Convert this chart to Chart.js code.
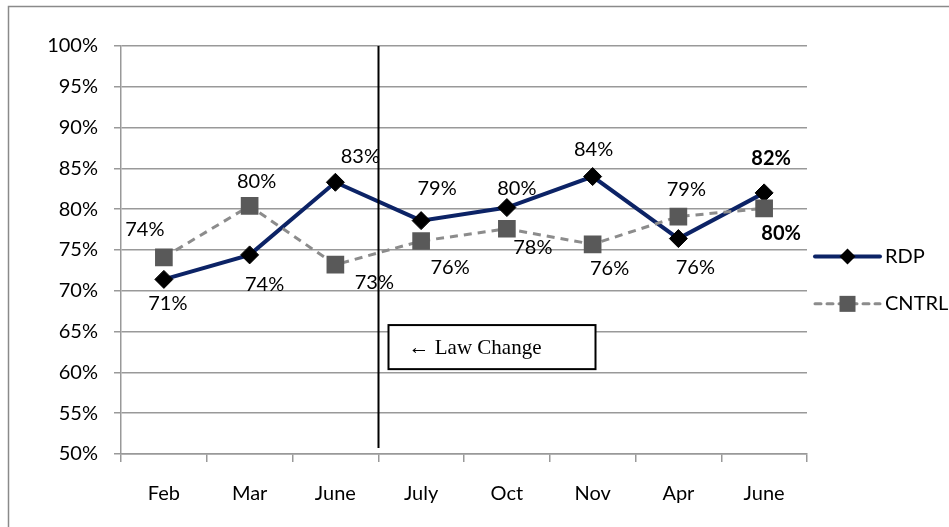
<!DOCTYPE html>
<html>
<head>
<meta charset="utf-8">
<script src="https://cdn.jsdelivr.net/npm/chart.js@4.4.0/dist/chart.umd.min.js"></script>
<style>
html,body{margin:0;padding:0;background:#fff;}
#wrap{position:relative;width:949px;height:527px;}
canvas{display:block;}
</style>
</head>
<body>
<div id="wrap"><canvas id="c" width="949" height="527"></canvas></div>
<script>
// ---- data ----
const categories = ['Feb', 'Mar', 'June', 'July', 'Oct', 'Nov', 'Apr', 'June'];
const rdpValues = [71.4, 74.4, 83.3, 78.6, 80.2, 84.0, 76.4, 82.0];
const cntrlValues = [74.1, 80.4, 73.2, 76.1, 77.6, 75.7, 79.1, 80.1];
const yTicks = [50, 55, 60, 65, 70, 75, 80, 85, 90, 95, 100];
const seriesNames = ['RDP', 'CNTRL'];
const annotationText = '\u2190 Law Change';

// ---- styling ----
const FONT = 'Lato, "Open Sans", sans-serif';
const FS = 20;
const rdpColor = '#0c2366';
const cntrlLine = '#8c8c8c';
const cntrlMarker = '#595959';
// label offsets [dx, dy] from each point (label placement)
const rdpLabelOffsets = [[4,24],[15,30],[25,-26],[16,-32],[10,-19],[1,-27],[17,29],[7,-34]];
const cntrlLabelOffsets = [[-19,-28],[7,-24],[39,18],[29,27],[26,19],[17,24],[8,-27],[17,25]];
const boldLast = true;

const customPlugin = {
  id: 'custom',
  beforeDraw(chart) {
    const ctx = chart.ctx;
    ctx.save();
    ctx.strokeStyle = '#8a8a8a';
    ctx.lineWidth = 1.5;
    ctx.strokeRect(8.5, 6.5, 1200, 700);
    ctx.restore();
  },
  afterDatasetsDraw(chart) {
    const ctx = chart.ctx;
    const xs = chart.scales.x, ys = chart.scales.y;
    const area = chart.chartArea;
    ctx.save();
    // vertical law-change line
    const lx = Math.round((xs.getPixelForValue(2) + xs.getPixelForValue(3)) / 2) + 0.5;
    ctx.strokeStyle = '#000';
    ctx.lineWidth = 2;
    ctx.beginPath();
    ctx.moveTo(lx, area.top);
    ctx.lineTo(lx, area.bottom - 6);
    ctx.stroke();
    // annotation box
    const bx = lx + 10;
    const by = ys.getPixelForValue(65.8);
    const bb = ys.getPixelForValue(60.4);
    const bw = 207;
    ctx.fillStyle = '#fff';
    ctx.fillRect(bx, by, bw, bb - by);
    ctx.strokeRect(bx, by, bw, bb - by);
    ctx.fillStyle = '#000';
    ctx.font = '21px "Liberation Serif", "Times New Roman", serif';
    ctx.textAlign = 'left';
    ctx.textBaseline = 'middle';
    ctx.fillText(annotationText, bx + 20, (by + bb) / 2 + 1);

    // data labels
    const drawLabels = (dsIndex, offsets, values) => {
      const meta = chart.getDatasetMeta(dsIndex);
      meta.data.forEach((pt, i) => {
        const bold = boldLast && i === values.length - 1;
        ctx.font = (bold ? 'bold ' : '') + FS + 'px ' + FONT;
        ctx.textAlign = 'center';
        ctx.textBaseline = 'middle';
        ctx.fillStyle = '#000';
        ctx.fillText(Math.round(values[i]) + '%', pt.x + offsets[i][0], pt.y + offsets[i][1]);
      });
    };
    drawLabels(0, rdpLabelOffsets, rdpValues);
    drawLabels(1, cntrlLabelOffsets, cntrlValues);

    // legend
    const lgX0 = area.right + 8, lgX1 = area.right + 73, lgMid = (lgX0 + lgX1) / 2;
    const y1 = ys.getPixelForValue(74.2), y2 = ys.getPixelForValue(68.4);
    ctx.strokeStyle = rdpColor; ctx.lineWidth = 4; ctx.lineCap = 'round';
    ctx.beginPath(); ctx.moveTo(lgX0, y1); ctx.lineTo(lgX1, y1); ctx.stroke();
    ctx.fillStyle = '#000';
    ctx.beginPath();
    ctx.moveTo(lgMid, y1 - 8); ctx.lineTo(lgMid + 8, y1); ctx.lineTo(lgMid, y1 + 8); ctx.lineTo(lgMid - 8, y1);
    ctx.closePath(); ctx.fill();
    ctx.strokeStyle = cntrlLine; ctx.lineWidth = 3; ctx.lineCap = 'round';
    ctx.setLineDash([6, 6]);
    ctx.beginPath(); ctx.moveTo(lgX0, y2); ctx.lineTo(lgX1, y2); ctx.stroke();
    ctx.setLineDash([]);
    ctx.fillStyle = cntrlMarker;
    ctx.fillRect(lgMid - 8, y2 - 8, 16, 16);
    ctx.fillStyle = '#000';
    ctx.font = FS + 'px ' + FONT;
    ctx.textAlign = 'left';
    ctx.textBaseline = 'middle';
    ctx.fillText(seriesNames[0], lgX1 + 5, y1);
    ctx.fillText(seriesNames[1], lgX1 + 5, y2);
    ctx.restore();
  }
};

new Chart(document.getElementById('c'), {
  type: 'line',
  data: {
    labels: categories,
    datasets: [
      {
        label: seriesNames[0],
        data: rdpValues,
        borderColor: rdpColor,
        borderWidth: 4,
        pointStyle: 'rectRot',
        pointRadius: 9,
        pointBackgroundColor: '#000',
        pointBorderColor: '#000',
        pointBorderWidth: 1,
        tension: 0,
        order: 2
      },
      {
        label: seriesNames[1],
        data: cntrlValues,
        borderColor: cntrlLine,
        borderWidth: 3,
        borderDash: [8, 6],
        pointStyle: 'rect',
        pointRadius: 12.5,
        pointBackgroundColor: cntrlMarker,
        pointBorderColor: cntrlMarker,
        pointBorderWidth: 0,
        tension: 0,
        order: 1
      }
    ]
  },
  options: {
    responsive: false,
    animation: false,
    devicePixelRatio: 1,
    layout: { padding: { left: 0, right: 142, top: 46, bottom: 0 } },
    plugins: { legend: { display: false }, tooltip: { enabled: false } },
    scales: {
      x: {
        offset: true,
        grid: { offset: true, drawOnChartArea: false, drawTicks: true, tickLength: 8, color: '#999', lineWidth: 1.5 },
        border: { color: '#999', width: 1.5 },
        ticks: { color: '#000', font: { family: FONT, size: FS }, padding: 20, maxRotation: 0 },
        afterFit(s) { s.height = 73; }
      },
      y: {
        min: 50, max: 100,
        afterBuildTicks(s) { s.ticks = yTicks.map(v => ({ value: v })); },
        grid: { color: '#999', lineWidth: 1.5, drawTicks: true, tickLength: 7 },
        border: { color: '#999', width: 1.5 },
        ticks: { color: '#000', font: { family: FONT, size: FS }, padding: 16, callback: v => v + '%' },
        afterFit(s) { s.width = 121; }
      }
    }
  },
  plugins: [customPlugin]
});
</script>
</body>
</html>
